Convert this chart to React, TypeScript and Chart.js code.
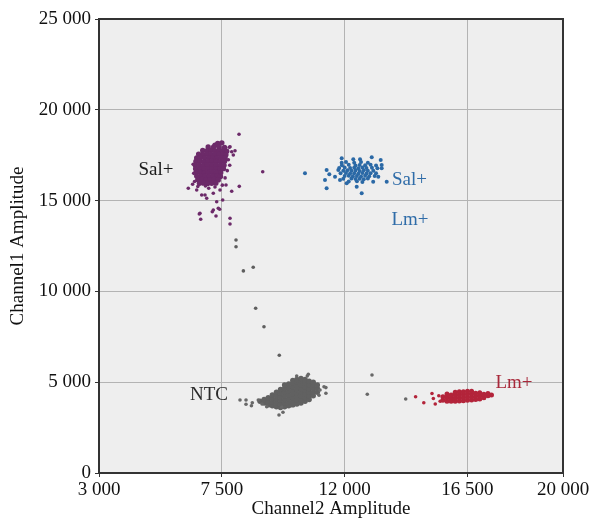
import React, { useEffect, useRef } from "react";
import { Chart, registerables } from "chart.js";

Chart.register(...registerables);

// ---- axis ticks ----
const xTicks = [3000, 7500, 12000, 16500, 20000];
const yTicks = [0, 5000, 10000, 15000, 20000, 25000];
const xTitle = "Channel2 Amplitude";
const yTitle = "Channel1 Amplitude";

// ---- series (Channel2 amplitude, Channel1 amplitude) ----
const salPlusCore: [number, number][] = [
  [7350, 18150], [7500, 18180], [7250, 18050],
  [7000, 17950], [7200, 17960], [7400, 17940], [7600, 17930],
  [6800, 17760], [6950, 17740], [7100, 17770], [7250, 17750], [7400, 17730], [7550, 17760], [7680, 17720],
  [6650, 17560], [6800, 17540], [6950, 17570], [7100, 17550], [7250, 17540], [7400, 17560], [7550, 17550], [7650, 17520],
  [6580, 17350], [6720, 17370], [6870, 17340], [7020, 17360], [7170, 17350], [7320, 17340], [7470, 17360], [7620, 17350],
  [6550, 17150], [6700, 17160], [6850, 17140], [7000, 17150], [7150, 17170], [7300, 17150], [7450, 17140], [7600, 17160],
  [6530, 16950], [6680, 16960], [6830, 16940], [6980, 16950], [7130, 16960], [7280, 16950], [7430, 16940], [7580, 16950],
  [6540, 16750], [6690, 16760], [6840, 16740], [6990, 16750], [7140, 16760], [7290, 16750], [7440, 16740], [7560, 16760],
  [6560, 16550], [6710, 16560], [6860, 16540], [7010, 16550], [7160, 16560], [7310, 16550], [7460, 16540],
  [6580, 16350], [6730, 16360], [6880, 16340], [7030, 16350], [7180, 16360], [7330, 16350], [7450, 16330],
  [6620, 16150], [6770, 16160], [6920, 16140], [7070, 16150], [7220, 16160], [7370, 16140],
  [6680, 15950], [6830, 15960], [6980, 15940], [7130, 15950], [7280, 15960],
];

const salPlusScatter: [number, number][] = [
  [6450, 17000], [6470, 16500], [6500, 16050], [7740, 17250], [7700, 16650], [7620, 16250], [7520, 15850],
  [6900, 15800], [6430, 15900], [7790, 16950], [7250, 15750], [7020, 15680], [6620, 15780],
  [7774, 17935], [7921, 17511], [7862, 17693], [7800, 17968], [7983, 17748],
  [8130, 18650], [8998, 16592],
  [8140, 15786], [7862, 15511], [7653, 15859], [7433, 15584], [6272, 15678], [6580, 15584], [6763, 15308],
  [6884, 15308], [6946, 15127], [7188, 15402], [7312, 14940], [7532, 15033], [7371, 14576], [7188, 14482],
  [7420, 14520], [6700, 14300], [6675, 14262], [6726, 13970], [7151, 14388], [7287, 14152], [7800, 14026],
  [7800, 13712],
];

const salBluePoints: [number, number][] = [
  [10547, 16504],
  [11892, 17330], [11892, 17087], [12317, 17275], [12563, 17275], [12992, 17385], [13321, 17236], [13357, 16960],
  [13357, 16779], [11340, 16685], [11438, 16449], [11280, 16134], [11647, 16316], [11768, 16685], [11830, 16134],
  [12075, 15952], [12442, 15766], [12625, 15402], [11340, 15678], [13046, 16041], [13233, 16316], [13541, 16041],
  [12050, 17120], [12350, 17080], [12600, 17130], [12850, 17090],
  [11900, 16950], [12150, 16970], [12400, 16930], [12550, 16960], [12750, 16940], [12950, 16970], [13150, 16930],
  [11800, 16800], [12000, 16820], [12200, 16790], [12350, 16810], [12500, 16780], [12650, 16820], [12800, 16790], [13000, 16810], [13200, 16780],
  [11950, 16650], [12100, 16670], [12250, 16640], [12400, 16660], [12550, 16630], [12700, 16670], [12850, 16650], [13050, 16640],
  [11850, 16500], [12050, 16520], [12200, 16490], [12350, 16510], [12500, 16480], [12650, 16520], [12800, 16490], [12950, 16510], [13150, 16500],
  [12000, 16350], [12150, 16370], [12300, 16340], [12450, 16360], [12600, 16330], [12750, 16370], [12900, 16340], [13100, 16360],
  [11950, 16200], [12250, 16220], [12400, 16190], [12550, 16210], [12700, 16180], [12850, 16220],
  [12150, 16050], [12450, 16060], [12650, 16030],
];

const trailPoints: [number, number][] = [
  [8020, 12830], [8020, 12460], [8290, 11130], [8650, 11330], [8740, 9070], [9045, 8056], [9606, 6481],
];

const ntcCore: [number, number][] = [
  [8900, 3950],
  [9050, 3850], [9050, 4050],
  [9200, 3750], [9200, 3950], [9200, 4150],
  [9350, 3700], [9350, 3900], [9350, 4100], [9350, 4300],
  [9500, 3650], [9500, 3850], [9500, 4050], [9500, 4250], [9500, 4450],
  [9650, 3600], [9650, 3800], [9650, 4000], [9650, 4200], [9650, 4400], [9650, 4600],
  [9800, 3650], [9800, 3850], [9800, 4050], [9800, 4250], [9800, 4450], [9800, 4650], [9800, 4850],
  [9950, 3700], [9950, 3900], [9950, 4100], [9950, 4300], [9950, 4500], [9950, 4700], [9950, 4900],
  [10100, 3750], [10100, 3950], [10100, 4150], [10100, 4350], [10100, 4550], [10100, 4750], [10100, 4950], [10100, 5100],
  [10250, 3800], [10250, 4000], [10250, 4200], [10250, 4400], [10250, 4600], [10250, 4800], [10250, 5000], [10250, 5150],
  [10400, 3850], [10400, 4050], [10400, 4250], [10400, 4450], [10400, 4650], [10400, 4850], [10400, 5050], [10400, 5200],
  [10550, 3950], [10550, 4150], [10550, 4350], [10550, 4550], [10550, 4750], [10550, 4950], [10550, 5150],
  [10700, 4050], [10700, 4250], [10700, 4450], [10700, 4650], [10700, 4850], [10700, 5050],
  [10850, 4250], [10850, 4450], [10850, 4650], [10850, 4850], [10850, 5000],
  [11000, 4450], [11000, 4650], [11000, 4850],
];

const ntcScatter: [number, number][] = [
  [8166, 4020], [8386, 4020], [8386, 3783], [8617, 3871], [8837, 4020], [8584, 3700], [8972, 3800], [9144, 3651],
  [10243, 5341], [10631, 5341], [10669, 5435], [11313, 4703], [11313, 4389], [11060, 4284], [9741, 3343],
  [9595, 3194], [9694, 3618], [11097, 4570], [11244, 4752], [12830, 4334], [13002, 5397], [14237, 4075],
];

const lmCore: [number, number][] = [
  [15600, 4000], [15600, 4200],
  [15750, 3950], [15750, 4150], [15750, 4350],
  [15900, 3950], [15900, 4120], [15900, 4300],
  [16050, 3950], [16050, 4120], [16050, 4300], [16050, 4450],
  [16200, 3970], [16200, 4140], [16200, 4310], [16200, 4470],
  [16350, 3980], [16350, 4150], [16350, 4320], [16350, 4480],
  [16500, 4000], [16500, 4170], [16500, 4340], [16500, 4500],
  [16650, 4020], [16650, 4190], [16650, 4360], [16650, 4500],
  [16800, 4050], [16800, 4220], [16800, 4390],
  [16950, 4080], [16950, 4250], [16950, 4420],
  [17100, 4150], [17100, 4330],
  [17250, 4250], [17250, 4380],
  [17380, 4300],
];

const lmScatter: [number, number][] = [
  [14600, 4200], [14900, 3870], [15200, 4380], [15250, 4100], [15320, 3800], [15450, 4250], [15500, 3950],
];

// ---- cluster labels ----
const labelTexts = ["Sal+", "Sal+", "Lm+", "NTC", "Lm+"];
const labelX = [5088, 14376, 14395, 7030, 18205];
const labelY = [16410, 15859, 13657, 4020, 4681];
const labelColors = ["#1a1a1a", "#2f6ca8", "#2f6ca8", "#2a2a2a", "#a8283a"];

const SERIF = '"Liberation Serif", "Times New Roman", serif';

const fmt = (v: number) => String(v).replace(/\B(?=(\d{3})+(?!\d))/g, " ");

const toXY = (pts: [number, number][]) => pts.map(([x, y]) => ({ x, y }));

const bgPlugin = {
  id: "bgFrame",
  beforeDraw(chart: any) {
    const { ctx, chartArea: a } = chart;
    ctx.save();
    ctx.fillStyle = "#eeeeee";
    ctx.fillRect(a.left, a.top, a.right - a.left, a.bottom - a.top);
    ctx.restore();
  },
  afterDatasetsDraw(chart: any) {
    const { ctx, chartArea: a, scales } = chart;
    ctx.save();
    ctx.strokeStyle = "#333333";
    ctx.lineWidth = 2;
    ctx.strokeRect(a.left, a.top, a.right - a.left, a.bottom - a.top);
    ctx.font = `19px ${SERIF}`;
    ctx.textAlign = "center";
    ctx.textBaseline = "alphabetic";
    labelTexts.forEach((t, i) => {
      ctx.fillStyle = labelColors[i];
      ctx.fillText(t, scales.x.getPixelForValue(labelX[i]), scales.y.getPixelForValue(labelY[i]));
    });
    ctx.restore();
  },
};

export default function App() {
  const ref = useRef<HTMLCanvasElement | null>(null);
  useEffect(() => {
    if (!ref.current) return;
    const ds = (label: string, pts: [number, number][], color: string, r = 1.8) => ({
      label,
      data: toXY(pts),
      backgroundColor: color,
      borderWidth: 0,
      pointRadius: r,
      pointHoverRadius: r,
    });
    const font = { family: SERIF, size: 19 };
    const chart = new Chart(ref.current, {
      type: "scatter",
      data: {
        datasets: [
          ds("NTC scatter", ntcScatter, "#686868"),
          ds("NTC", ntcCore, "#616161", 2.7),
          ds("trail", trailPoints, "#5e5e5e"),
          ds("Sal+ scatter", salPlusScatter, "#6c2a69"),
          ds("Sal+", salPlusCore, "#6c2a69", 2.7),
          ds("Sal+ blue", salBluePoints, "#2b69a6", 2.0),
          ds("Lm+ scatter", lmScatter, "#b3243a"),
          ds("Lm+", lmCore, "#b3243a", 2.5),
        ],
      },
      options: {
        animation: false,
        responsive: false,
        devicePixelRatio: 1,
        events: [],
        layout: { padding: { top: 19, right: 31, left: 0, bottom: 0 } },
        plugins: { legend: { display: false }, tooltip: { enabled: false } },
        scales: {
          x: {
            type: "linear",
            min: 3000,
            max: 20000,
            afterBuildTicks: (s: any) => {
              s.ticks = xTicks.map((value) => ({ value }));
            },
            afterFit: (s: any) => {
              s.height = 49;
            },
            ticks: { callback: (v: any) => fmt(Number(v)), font, color: "#111", padding: 2, maxRotation: 0, autoSkip: false },
            grid: { color: "#b3b3b3", tickColor: "#333", tickLength: 4, lineWidth: 1 },
            border: { display: false },
            title: { display: true, text: xTitle, font, color: "#111", padding: { top: 0, bottom: 2 } },
          },
          y: {
            type: "linear",
            min: 0,
            max: 25000,
            afterBuildTicks: (s: any) => {
              s.ticks = yTicks.map((value) => ({ value }));
            },
            afterFit: (s: any) => {
              s.width = 99;
            },
            ticks: { callback: (v: any) => fmt(Number(v)), font, color: "#111", padding: 4, autoSkip: false },
            grid: { color: "#b3b3b3", tickColor: "#333", tickLength: 4, lineWidth: 1 },
            border: { display: false },
            title: { display: true, text: yTitle, font, color: "#111", padding: { top: 7, bottom: 0 } },
          },
        },
      } as any,
      plugins: [bgPlugin],
    });
    return () => chart.destroy();
  }, []);
  return (
    <div style={{ position: "absolute", left: 0, top: 0, width: 594, height: 522, background: "#fff" }}>
      <canvas ref={ref} width={594} height={522} style={{ display: "block" }} />
    </div>
  );
}
